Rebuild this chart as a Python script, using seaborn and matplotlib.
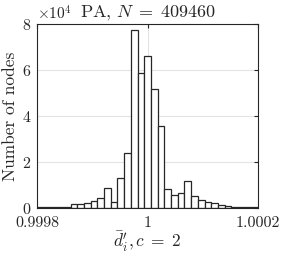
import numpy as np
import pandas as pd
import seaborn as sns
import matplotlib
matplotlib.use('Agg')
import matplotlib.pyplot as plt

sns.set_style('white')
plt.rcParams['font.family'] = ['cmr10', 'DejaVu Serif']
plt.rcParams['mathtext.fontset'] = 'cm'
plt.rcParams['axes.formatter.use_mathtext'] = True
plt.rcParams['axes.unicode_minus'] = False

# histogram counts, 33 equal bins over [0.9998, 1.0002]
x_min, x_max = 0.9998, 1.0002
counts = [200, 200, 200, 200, 400, 1600, 1900, 2200, 2800, 4100, 8700,
          2600, 13000, 24000, 77300, 58800, 66100, 51700, 35700, 8100,
          5800, 6500, 11700, 5100, 3400, 2400, 2000, 1200, 900, 600,
          500, 400, 400]
x_ticks = [0.9998, 1.0, 1.0002]
x_ticklabels = ['0.9998', '1', '1.0002']
y_ticks = [0, 20000, 40000, 60000, 80000]

edges = np.linspace(x_min, x_max, len(counts) + 1)
centers = (edges[:-1] + edges[1:]) / 2
data = pd.DataFrame({'d': centers, 'n': counts})

fig = plt.figure(figsize=(2.83, 2.57), dpi=100)
ax = fig.add_axes([0.131, 0.191, 0.781, 0.716])

sns.histplot(data=data, x='d', weights='n', bins=len(counts),
             binrange=(x_min, x_max), ax=ax,
             color='white', edgecolor='#262626', linewidth=0.9, alpha=1)

ax.set_xlim(x_min, x_max)
ax.set_ylim(0, 80000)
ax.set_xticks(x_ticks)
ax.set_xticklabels(x_ticklabels)
ax.set_yticks(y_ticks)
ax.ticklabel_format(axis='y', style='sci', scilimits=(0, 0))
ax.yaxis.get_offset_text().set_fontsize(11)

ax.grid(True, color='#e3e3e3', linewidth=0.8)
ax.set_axisbelow(True)
for s in ax.spines.values():
    s.set_color('#262626')
    s.set_linewidth(0.8)
ax.tick_params(direction='in', length=3, width=0.8, top=True, right=True,
               labelsize=11.5, color='#262626')
ax.tick_params(axis='x', pad=6)
ax.tick_params(axis='y', pad=4)

ax.set_title(r'PA, $N\;=\;409460$', fontsize=13, pad=5)
ax.set_xlabel(r"$\bar{d}^{\prime}_i, c\;=\;2$", fontsize=12.5, labelpad=0)
ax.set_ylabel('Number of nodes', fontsize=12.5, labelpad=3)

plt.savefig('out.png', dpi=100)
